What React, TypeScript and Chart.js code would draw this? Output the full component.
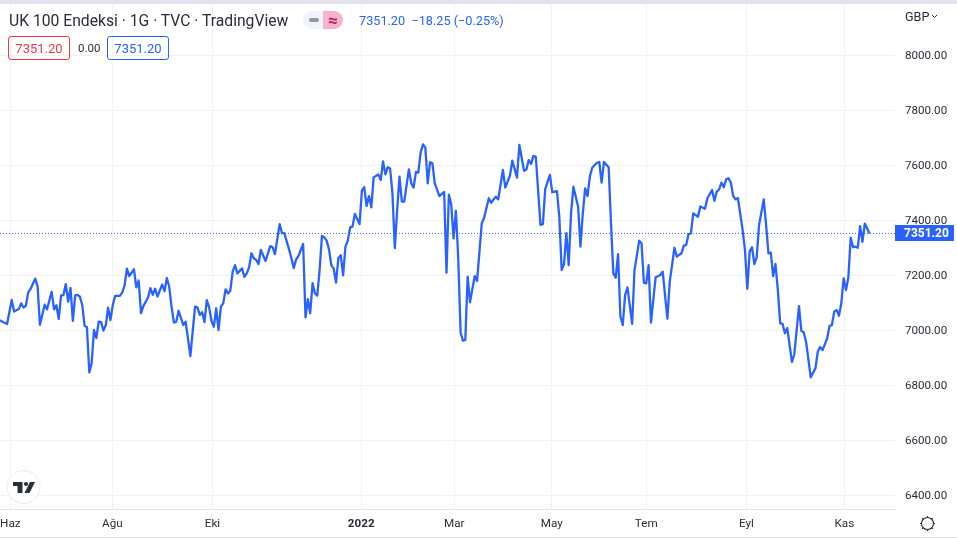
import React, { useEffect, useRef } from "react";
import { Chart, registerables } from "chart.js";

Chart.register(...registerables);

const FONT = "Roboto, sans-serif";
const BLUE = "#2962ff";
const GRID = "#f1f2f5";
const LINE = "#e0e3eb";
const TEXT = "#2a2e39";

const title = "UK 100 Endeksi · 1G · TVC · TradingView";
const lastPrice = 7351.2;
const quoteText = "7351.20  −18.25 (−0.25%)";
const badgeText = "7351.20";
const spreadText = "0.00";
const currency = "GBP";

const monthNames = ["Haz", "Ağu", "Eki", "2022", "Mar", "May", "Tem", "Eyl", "Kas"];
const monthSessions = [4.4, 47.8, 90.4, 153.7, 193.3, 234.8, 275, 317.6, 359.3];
const priceTicks = [6400, 6600, 6800, 7000, 7200, 7400, 7600, 7800, 8000];

const sessions = [
  0, 1, 3, 5, 6, 8, 9, 10, 11, 12, 13, 15, 16, 17, 19, 20, 22, 23, 24, 25,
  26, 27, 28, 29, 30, 31, 32, 33, 34, 35, 36, 37, 38, 39, 40, 41, 42, 43, 44, 45,
  46, 47, 48, 49, 51, 52, 53, 54, 55, 57, 58, 59, 60, 61, 63, 64, 65, 66, 67, 69,
  70, 71, 72, 73, 74, 75, 76, 78, 79, 81, 83, 84, 85, 86, 87, 88, 89, 90, 91, 92,
  93, 94, 95, 96, 97, 98, 99, 100, 101, 103, 104, 105, 106, 107, 108, 109, 110, 111, 113, 115,
  116, 117, 119, 120, 121, 123, 124, 125, 126, 127, 129, 130, 131, 132, 133, 134, 135, 136, 137, 138,
  139, 140, 141, 142, 143, 144, 145, 146, 147, 148, 149, 150, 151, 153, 154, 155, 156, 157, 158, 159,
  161, 162, 163, 164, 165, 166, 167, 168, 169, 170, 171, 172, 174, 175, 176, 177, 178, 179, 180, 181,
  182, 183, 184, 185, 187, 189, 190, 191, 192, 193, 194, 195, 196, 197, 198, 199, 200, 202, 203, 205,
  206, 208, 209, 211, 212, 214, 215, 217, 218, 220, 221, 223, 224, 225, 226, 227, 228, 230, 231, 232,
  234, 235, 237, 238, 239, 240, 241, 242, 243, 244, 246, 247, 248, 249, 250, 251, 252, 254, 255, 256,
  257, 259, 260, 261, 262, 263, 264, 265, 266, 267, 269, 270, 272, 273, 274, 275, 276, 277, 279, 281,
  282, 284, 285, 287, 288, 290, 291, 292, 293, 294, 295, 297, 298, 300, 301, 303, 304, 305, 306, 307,
  308, 309, 310, 311, 312, 313, 314, 316, 317, 318, 319, 320, 321, 322, 323, 325, 326, 327, 328, 329,
  330, 331, 332, 333, 334, 335, 337, 338, 340, 341, 342, 343, 345, 347, 348, 349, 350, 352, 353, 354,
  355, 356, 357, 358, 359, 360, 361, 362, 363, 364, 365, 366, 367, 368, 370,
];

const closes = [
  7036, 7030, 7022, 7109, 7067, 7076, 7097, 7082, 7088, 7137, 7149, 7187, 7158, 7019, 7092, 7075, 7139, 7075, 7090, 7040,
  7126, 7127, 7167, 7103, 7153, 7033, 7126, 7128, 7121, 7091, 7015, 7010, 6846, 6879, 7000, 6971, 7030, 7029, 6998, 7017,
  7081, 7036, 7091, 7124, 7124, 7136, 7161, 7223, 7196, 7221, 7155, 7180, 7061, 7087, 7118, 7152, 7128, 7150, 7122, 7165,
  7141, 7189, 7158, 7085, 7027, 7030, 7070, 7018, 7030, 6905, 7085, 7082, 7055, 7065, 7029, 7109, 7082, 7033, 7012, 7079,
  7000, 7085, 7097, 7148, 7133, 7143, 7212, 7236, 7206, 7224, 7193, 7206, 7228, 7279, 7261, 7255, 7240, 7291, 7251, 7305,
  7301, 7276, 7385, 7352, 7352, 7293, 7261, 7225, 7257, 7269, 7313, 7046, 7112, 7061, 7170, 7133, 7125, 7218, 7342, 7337,
  7325, 7293, 7235, 7223, 7172, 7262, 7272, 7199, 7303, 7325, 7373, 7376, 7422, 7385, 7507, 7519, 7451, 7487, 7446, 7555,
  7566, 7545, 7613, 7566, 7592, 7587, 7497, 7298, 7436, 7558, 7467, 7467, 7584, 7533, 7518, 7575, 7572, 7645, 7675, 7663,
  7533, 7610, 7606, 7533, 7487, 7502, 7208, 7492, 7458, 7333, 7433, 7260, 6990, 6961, 6964, 7194, 7101, 7196, 7178, 7388,
  7408, 7479, 7463, 7485, 7475, 7582, 7518, 7561, 7616, 7554, 7673, 7579, 7584, 7618, 7604, 7633, 7630, 7382, 7385, 7512,
  7564, 7501, 7505, 7412, 7218, 7239, 7352, 7236, 7424, 7521, 7449, 7303, 7424, 7515, 7487, 7558, 7590, 7608, 7611, 7536,
  7611, 7592, 7388, 7206, 7190, 7276, 7049, 7018, 7127, 7155, 7022, 7218, 7325, 7315, 7172, 7170, 7236, 7027, 7192, 7200,
  7212, 7041, 7176, 7299, 7267, 7279, 7307, 7309, 7349, 7351, 7424, 7412, 7449, 7441, 7479, 7509, 7470, 7503, 7511, 7536,
  7519, 7548, 7552, 7536, 7487, 7475, 7480, 7364, 7291, 7150, 7285, 7301, 7240, 7264, 7382, 7475, 7382, 7279, 7281, 7196,
  7240, 7145, 7024, 7022, 6988, 7007, 6884, 6911, 7087, 6997, 6991, 6958, 6828, 6861, 6922, 6938, 6927, 6970, 7015, 7018,
  7067, 7073, 7052, 7097, 7188, 7145, 7191, 7336, 7301, 7303, 7299, 7378, 7321, 7387, 7351,
];

const abs = (s: React.CSSProperties): React.CSSProperties => ({ position: "absolute", whiteSpace: "pre", ...s });

const priceTagPlugin = {
  id: "priceTag",
  afterDraw(chart: any) {
    const y = Math.round(chart.scales.y.getPixelForValue(lastPrice));
    const ctx = chart.ctx;
    ctx.save();
    ctx.fillStyle = BLUE;
    ctx.fillRect(895, y - 8, 59, 16);
    ctx.fillStyle = "#fff";
    ctx.font = `bold 12px ${FONT}`;
    ctx.textBaseline = "middle";
    ctx.textAlign = "left";
    ctx.fillText(lastPrice.toFixed(2), 904, y + 1);
    ctx.restore();
  },
};

export default function App() {
  const ref = useRef<HTMLCanvasElement>(null);
  useEffect(() => {
    const chart = new Chart(ref.current!, {
      type: "line",
      plugins: [priceTagPlugin],
      data: {
        datasets: [
          {
            data: sessions.map((s, i) => ({ x: s, y: closes[i] })),
            borderColor: BLUE,
            borderWidth: 2.3,
            pointRadius: 0,
            tension: 0,
            borderJoinStyle: "round",
          },
          {
            data: [
              { x: 0, y: lastPrice },
              { x: 380.85, y: lastPrice },
            ],
            borderColor: "#3a6af0",
            borderWidth: 1,
            borderDash: [1, 2],
            pointRadius: 0,
          },
        ],
      },
      options: {
        animation: false,
        responsive: false,
        layout: { padding: { top: 4, left: 0, right: 0, bottom: 0 } },
        plugins: { legend: { display: false }, tooltip: { enabled: false } },
        scales: {
          x: {
            type: "linear",
            min: 0,
            max: 380.85,
            afterBuildTicks(s: any) {
              s.ticks = monthSessions.map((v) => ({ value: v }));
            },
            afterFit(s: any) {
              s.height = 30;
              s.paddingLeft = 0;
              s.paddingRight = 0;
            },
            grid: { color: GRID, drawTicks: false },
            border: { display: true, color: LINE },
            ticks: {
              autoSkip: false,
              maxRotation: 0,
              padding: 8,
              color: TEXT,
              font: (c: any) => ({
                family: FONT,
                size: 11.7,
                weight: monthNames[c.index] === "2022" ? "bold" : "normal",
              }),
              callback: (_v: any, i: number) => monthNames[i],
            },
          },
          y: {
            position: "right",
            min: 6349.1,
            max: 8185.5,
            afterBuildTicks(s: any) {
              s.ticks = priceTicks.map((v) => ({ value: v }));
            },
            afterFit(s: any) {
              s.width = 62;
              s.paddingTop = 0;
              s.paddingBottom = 0;
            },
            grid: { color: GRID, drawTicks: false },
            border: { display: false },
            ticks: {
              padding: 10,
              labelOffset: 1,
              color: TEXT,
              font: { family: FONT, size: 11.6 },
              callback: (v: any) => Number(v).toFixed(2),
            },
          },
        },
      },
    } as any);
    return () => chart.destroy();
  }, []);

  const badge = (left: number, color: string): React.CSSProperties =>
    abs({
      left,
      top: 36,
      width: 60,
      height: 22,
      border: `1px solid ${color}`,
      borderRadius: 3,
      color,
      font: `13px ${FONT}`,
      lineHeight: "23px",
      textAlign: "center",
    });

  return (
    <div style={{ position: "fixed", left: 0, top: 0, width: 957, height: 539, background: "#fff", overflow: "hidden" }}>
      <canvas ref={ref} width={957} height={539} style={{ display: "block", position: "absolute", left: 0, top: 0 }} />
      <div style={abs({ left: 0, top: 0, width: 957, height: 4, background: LINE })} />
      <div style={abs({ left: 0, top: 537, width: 957, height: 1, background: LINE })} />
      <div style={abs({ left: 9, top: 11, font: `15.7px ${FONT}`, lineHeight: "20px", color: TEXT })}>{title}</div>
      <div style={abs({ left: 303, top: 11, width: 20, height: 18, background: "#f0f3fa", borderRadius: "9px 0 0 9px" })}>
        <div style={abs({ left: 6, top: 7, width: 10, height: 4, borderRadius: 2, background: "#9598a1" })} />
      </div>
      <div
        style={abs({
          left: 323,
          top: 11,
          width: 20,
          height: 18,
          background: "#f7b3cb",
          borderRadius: "0 9px 9px 0",
          color: "#b0205f",
          font: `bold 17px ${FONT}`,
          lineHeight: "18px",
          textAlign: "center",
        })}
      >
        ≈
      </div>
      <div style={abs({ left: 359, top: 12, font: `12.7px ${FONT}`, lineHeight: "18px", color: BLUE })}>{quoteText}</div>
      <div style={badge(8, "#f23645")}>{badgeText}</div>
      <div style={abs({ left: 78, top: 39, font: `11.5px ${FONT}`, lineHeight: "18px", color: TEXT })}>{spreadText}</div>
      <div style={badge(107, BLUE)}>{badgeText}</div>
      <div style={abs({ left: 905, top: 9, font: `12.6px ${FONT}`, lineHeight: "16px", color: TEXT })}>{currency}</div>
      <svg style={abs({ left: 0, top: 0, pointerEvents: "none" })} width={957} height={539}>
        <path d="M932 15l2.5 2.5 2.5-2.5" fill="none" stroke={TEXT} strokeWidth={1} />
        <circle cx={23.5} cy={487} r={16.5} fill="#fff" stroke="#e8eaee" strokeWidth={1} />
        <path d="M13 482h9.5v11h-5v-7H13z" fill={TEXT} />
        <circle cx={26} cy={484} r={2.1} fill={TEXT} />
        <path d="M30 482h5l-5.5 11h-5z" fill={TEXT} />
        <circle cx={927.5} cy={523.5} r={6} fill="none" stroke={TEXT} strokeWidth={1.1} />
        <path
          d="M927.5 516v1.5M927.5 529.5v1.5M920 523.5h1.5M933.5 523.5h1.5M922.2 518.2l1.1 1.1M931.7 527.7l1.1 1.1M922.2 528.8l1.1-1.1M931.7 519.3l1.1-1.1"
          stroke={TEXT}
          strokeWidth={1.1}
        />
      </svg>
    </div>
  );
}
